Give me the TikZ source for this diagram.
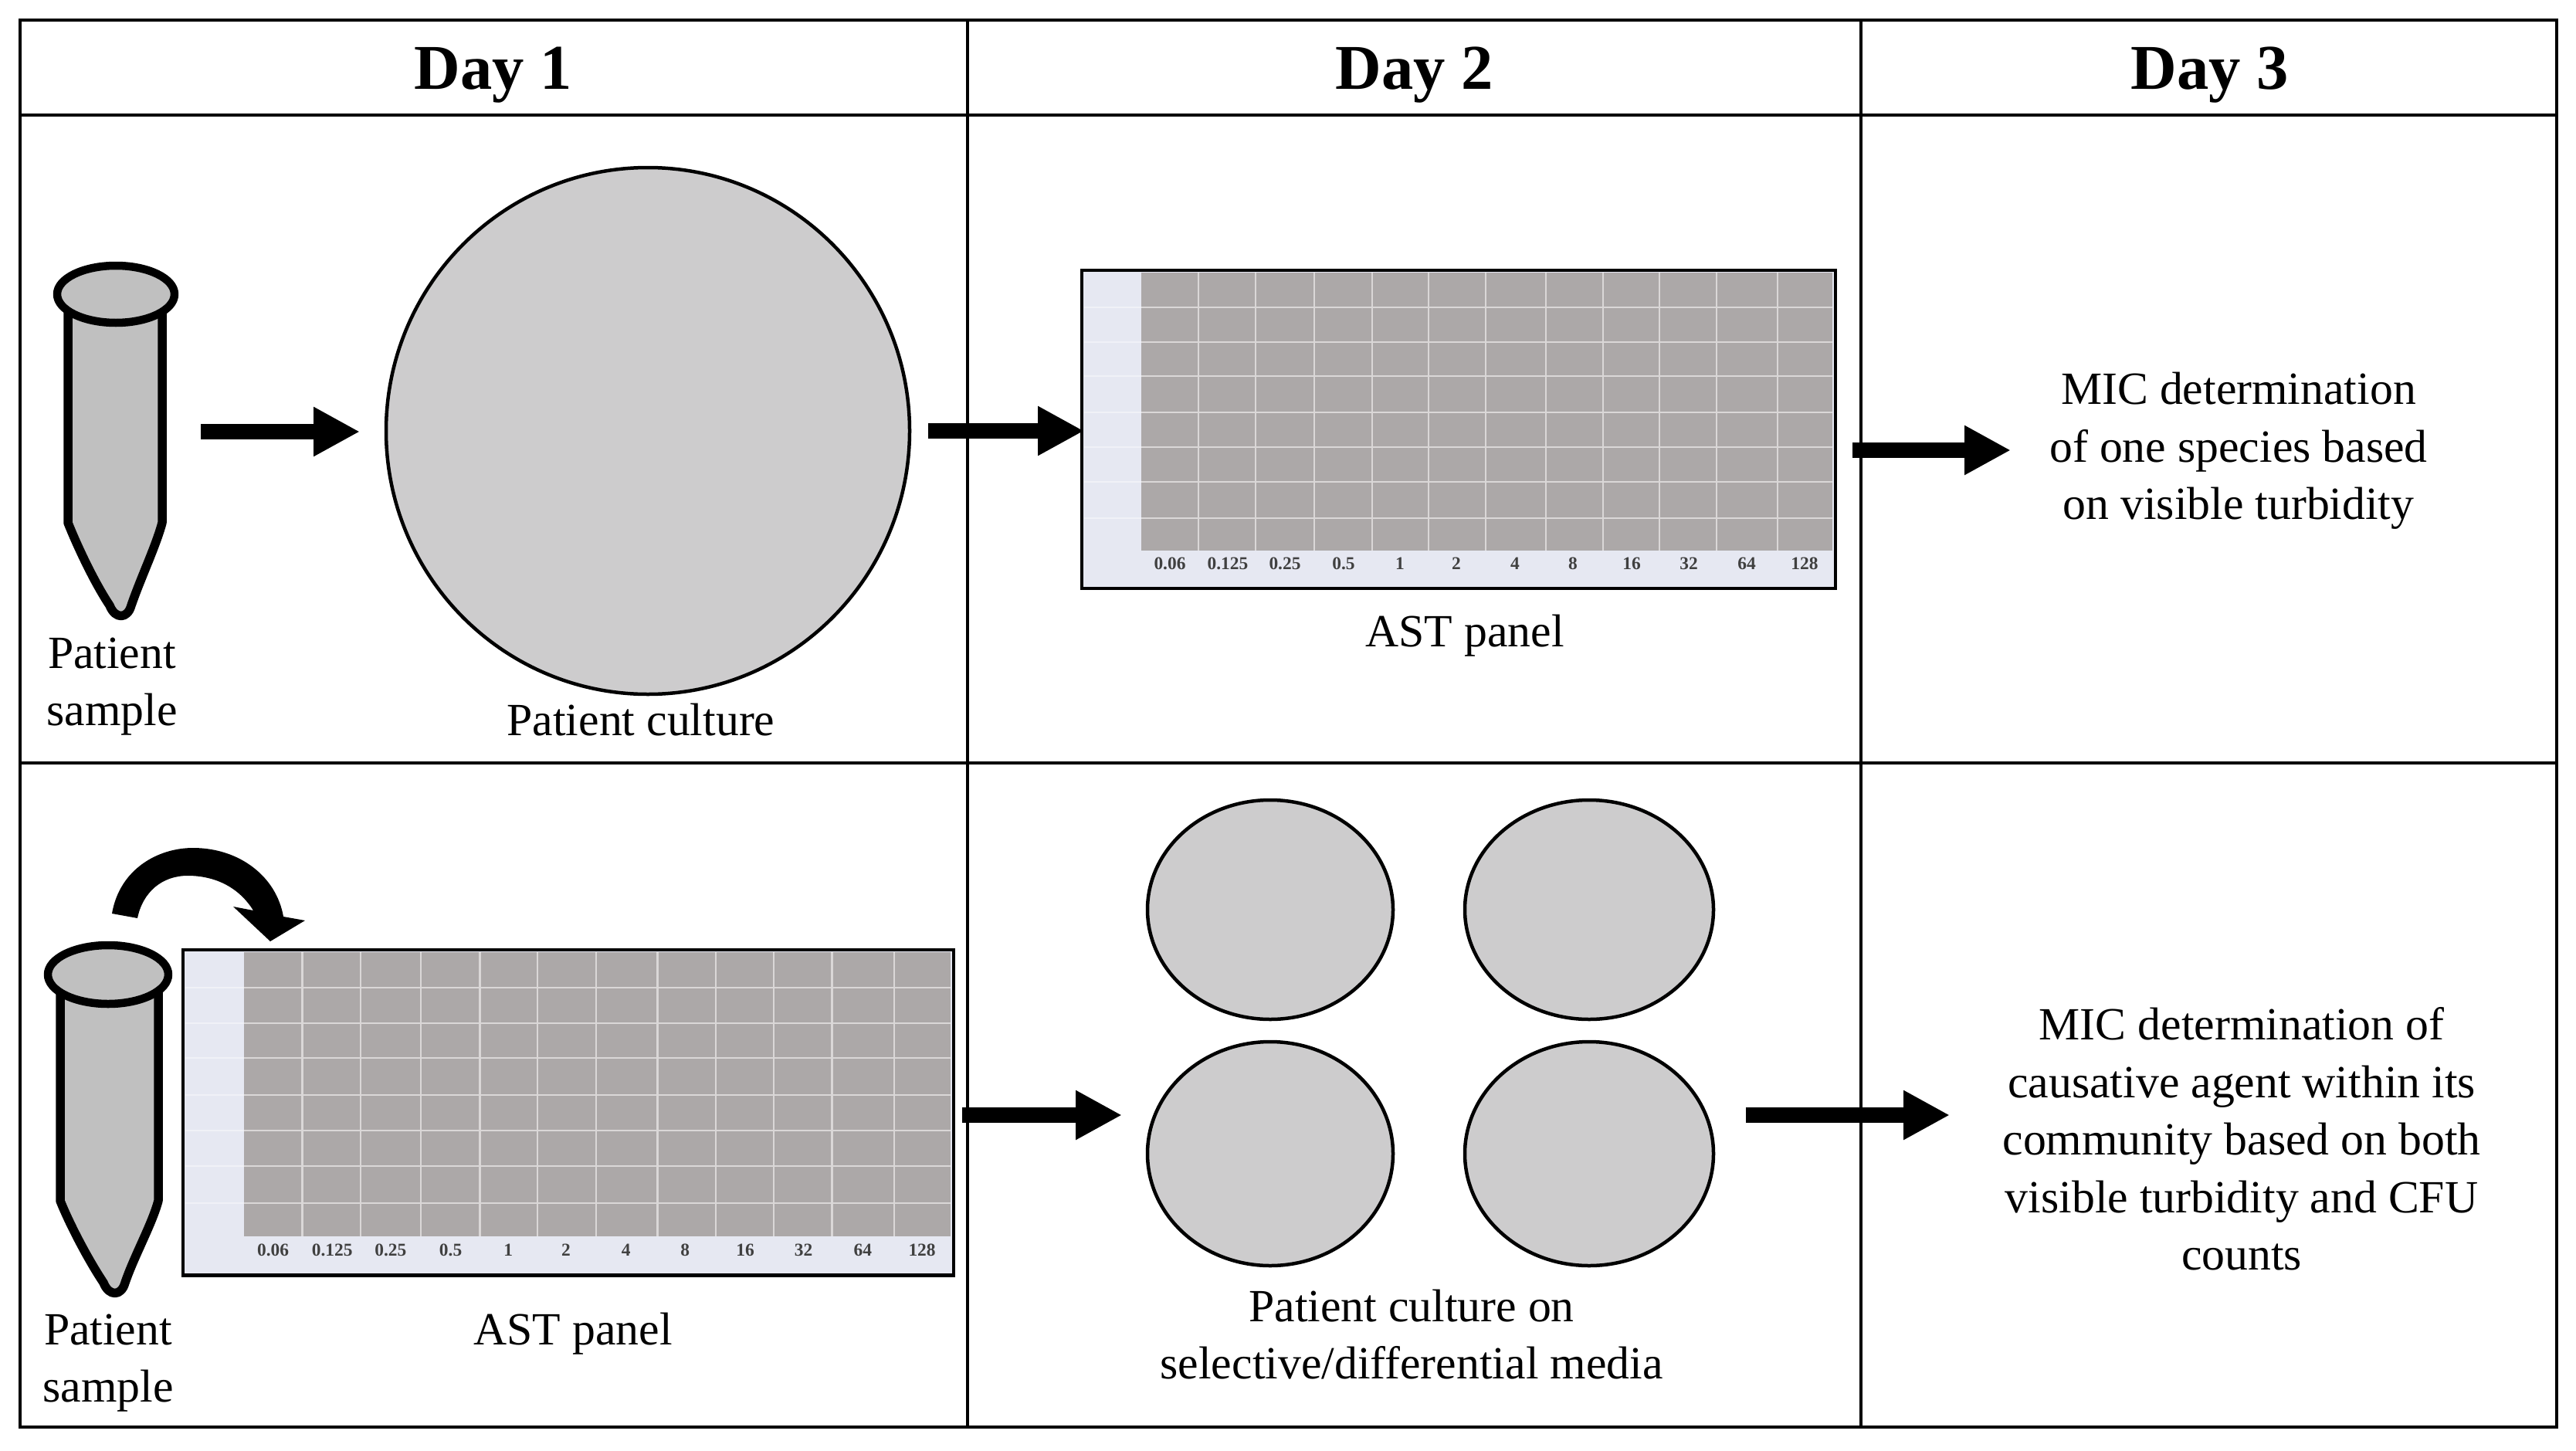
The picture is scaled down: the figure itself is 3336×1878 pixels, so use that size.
\documentclass[tikz,border=0pt]{standalone}
\usepackage{fontspec}
\setmainfont{Liberation Serif}
\usetikzlibrary{arrows.meta}
\definecolor{plategrey}{HTML}{CDCCCD}
\definecolor{tubegrey}{HTML}{C0C0C0}
\definecolor{wellgrey}{HTML}{ACA8A8}
\definecolor{wellline}{HTML}{DAD7D7}
\definecolor{panellight}{HTML}{E6E8F2}
\tikzset{
  frame/.style={line width=3.6*0.03cm,draw=black},
  heading/.style={font=\fontsize{70.5}{80}\selectfont\bfseries,inner sep=0pt},
  bodytext/.style={font=\fontsize{51}{63.5}\selectfont,align=center,inner sep=0pt},
  platedish/.style={draw=black,fill=plategrey,line width=4.5*0.03cm},
  tubeline/.style={draw=black,fill=tubegrey,line width=11.5*0.03cm,line join=round},
  bigarrow/.style={line width=20*0.03cm,-{Triangle[length=1.8cm,width=1.8cm]}},
  welltext/.style={font=\fontsize{20}{24}\selectfont\bfseries,text=black!75,inner sep=0pt},
}
\newcommand{\drawtube}[9]{%
  % #1 cx ell, #2 cy ell, #3 rx, #4 ry, #5 left, #6 right, #7 straight end y, #8 tip x, #9 tip y
  \draw[tubeline] (#5,#2) -- (#5,#7) .. controls (#5+12,#7+30) and (#8-35,#9-45) .. (#8-15,#9-15) .. controls (#8-8,#9+3) and (#8+8,#9+3) .. (#8+13,#9-15) .. controls (#8+25,#9-50) and (#6-8,#7+30) .. (#6,#7) -- (#6,#2) -- cycle;
  \draw[tubeline,line width=10.5*0.03cm] (#1,#2) ellipse [x radius=#3,y radius=#4];
}
\newcommand{\drawpanel}[4]{%
  % #1 name prefix, #2 x, #3 y, #4 scale
  \begin{scope}[shift={(#2,#3)},scale=#4]
    \fill[panellight] (0,0) rectangle (976,412);
    \fill[wellgrey] (77,3) rectangle (972,363);
    \foreach \yy in {48,93,137,184,229,274,321}
      \draw[white,opacity=.4,line width=2.4*0.03cm] (3,\yy) -- (77,\yy);
    \foreach \yy in {48,93,137,184,229,274,321}
      \draw[wellline,line width=2.4*0.03cm] (77,\yy) -- (972,\yy);
    \foreach \xx in {151,225,301,376,449,523,601,675,748,822,901}
      \draw[wellline,line width=2.4*0.03cm] (\xx,3) -- (\xx,363);
    \foreach \xx/\lab [count=\i] in {114/0.06,189/0.125,263/0.25,339/0.5,412/1,485/2,561/4,636/8,712/16,786/32,861/64,936/128}
      \node[welltext] (#1w\i) at (\xx,380) {\lab};
    \draw[line width=4.5*0.03cm] (0,0) rectangle (976,412);
  \end{scope}
}
\begin{document}
\begin{tikzpicture}[x=0.03cm,y=-0.03cm]
\useasboundingbox (0,0) rectangle (3336,1878);
% table
\draw[frame] (26,26) rectangle (3311,1848);
\draw[frame] (26,149) -- (3311,149);
\draw[frame] (26,988) -- (3311,988);
\draw[frame] (1253,26) -- (1253,1848);
\draw[frame] (2410,26) -- (2410,1848);
\node[heading] (d1) at (639,97) {Day 1};
\node[heading] (d2) at (1832,97) {Day 2};
\node[heading] (d3) at (2862,97) {Day 3};
% row 1
\drawtube{150}{381}{76}{37}{88}{210}{677}{157}{799}
\node[bodytext] (ps1) at (145,889) {Patient\\sample};
\draw[platedish] (839,558) ellipse [x radius=339,y radius=341];
\node[bodytext] (pc1) at (830,932) {Patient culture};
\drawpanel{pa}{1401}{350}{1}
\node[bodytext] (ast1) at (1897,823) {AST panel};
\node[bodytext] (mic1) at (2899,584) {MIC determination\\of one species based\\on visible turbidity};
\coordinate (a1s) at (260,559);
\coordinate (a1e) at (466,559);
\coordinate (a2s) at (1202,558);
\coordinate (a2e) at (1404,558);
\coordinate (a3s) at (2399,583);
\coordinate (a3e) at (2604,583);
\draw[bigarrow] (a1s) -- (a1e);
\draw[bigarrow] (a2s) -- (a2e);
\draw[bigarrow] (a3s) -- (a3e);
% row 2
\drawtube{140}{1262}{78}{38}{78}{205}{1555}{149}{1676}
\fill (145,1183) .. controls (155,1125) and (205,1098) .. (250,1098) .. controls (310,1098) and (358,1135) .. (367,1187) -- (395,1192) -- (350,1219) -- (302,1174) -- (328,1179) .. controls (310,1150) and (280,1134) .. (243,1134) .. controls (210,1134) and (185,1155) .. (178,1189) -- cycle;
\drawpanel{pb}{237}{1230}{1.0225}
\node[bodytext] (ps2) at (140,1765) {Patient\\sample};
\node[bodytext] (ast2) at (742,1727) {AST panel};
\draw[platedish] (1645,1178) ellipse [x radius=159,y radius=142];
\draw[platedish] (2058,1178) ellipse [x radius=161,y radius=142];
\draw[platedish] (1645,1494) ellipse [x radius=159,y radius=145];
\draw[platedish] (2058,1494) ellipse [x radius=161,y radius=145];
\node[bodytext] (pc2) at (1828,1728) {Patient culture on\\selective/differential media};
\node[bodytext] (mic2) at (2903,1475) {MIC determination of\\causative agent within its\\community based on both\\visible turbidity and CFU\\counts};
\coordinate (a4s) at (1246,1444);
\coordinate (a4e) at (1453,1444);
\coordinate (a5s) at (2261,1444);
\coordinate (a5e) at (2525,1444);
\draw[bigarrow] (a4s) -- (a4e);
\draw[bigarrow] (a5s) -- (a5e);
\end{tikzpicture}
\end{document}
